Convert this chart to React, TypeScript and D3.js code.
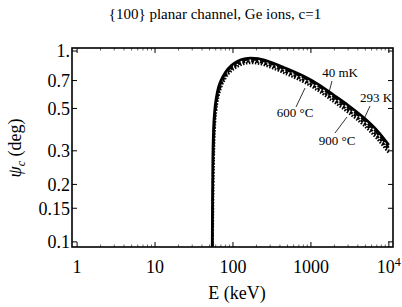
import * as d3 from 'd3';

const energy = [54, 55, 56, 58, 61, 65, 70, 80, 95, 115, 140, 170, 210, 300, 450, 800, 1200, 2000, 3000, 5000, 7000, 10000];
const psi40mK = [0.09, 0.26, 0.37, 0.48, 0.57, 0.645, 0.7, 0.775, 0.84, 0.885, 0.91, 0.918, 0.912, 0.875, 0.82, 0.74, 0.675, 0.585, 0.52, 0.44, 0.385, 0.322];
const psi293K = [0.06, 0.2, 0.32, 0.45, 0.55, 0.625, 0.685, 0.76, 0.825, 0.87, 0.895, 0.903, 0.897, 0.86, 0.805, 0.725, 0.66, 0.57, 0.505, 0.427, 0.373, 0.312];
const psi600C = [0.04, 0.14, 0.26, 0.41, 0.52, 0.6, 0.66, 0.74, 0.805, 0.85, 0.875, 0.884, 0.878, 0.84, 0.785, 0.705, 0.64, 0.553, 0.49, 0.413, 0.36, 0.302];
const psi900C = [0.03, 0.1, 0.2, 0.37, 0.49, 0.575, 0.64, 0.72, 0.785, 0.83, 0.857, 0.866, 0.86, 0.822, 0.767, 0.688, 0.624, 0.538, 0.476, 0.4, 0.348, 0.292];

const xTicks = [1, 10, 100, 1000];
const yTicks = [0.1, 0.15, 0.2, 0.3, 0.5, 0.7, 1];
const yTickLabels = ['0.1', '0.15', '0.2', '0.3', '0.5', '0.7', '1.'];

const width = 402;
const height = 307;
const margin = { top: 48, right: 9, bottom: 60, left: 72 };
const font = "'Liberation Serif', 'DejaVu Serif', serif";

const x = d3.scaleLog().domain([0.86, 11300]).range([margin.left, width - margin.right]);
const y = d3.scaleLog().domain([0.094, 1.037]).range([height - margin.bottom, margin.top]);

const series = [
  { name: '40 mK', values: psi40mK, width: 2.6, dash: null },
  { name: '293 K', values: psi293K, width: 2, dash: '7,2' },
  { name: '600 °C', values: psi600C, width: 2.2, dash: '3,1.5' },
  { name: '900 °C', values: psi900C, width: 2.4, dash: '1.5,1.5' },
];

const line = (vals: number[]) =>
  d3
    .line<number>()
    .x((_, i) => x(energy[i]))
    .y((v) => y(v))
    .curve(d3.curveMonotoneX)(vals);

const minorX: number[] = [];
for (let p = 0; p < 4; p++) {
  for (let k = 2; k <= 9; k++) minorX.push(k * Math.pow(10, p));
}

const App = () => {
  const x0 = margin.left;
  const x1 = width - margin.right;
  const y0 = height - margin.bottom;
  const y1 = margin.top;
  return (
    <svg width={width} height={height} style={{ position: 'absolute', left: 0, top: 0, fontFamily: font }}>
      <defs>
        <clipPath id="plot">
          <rect x={x0} y={y1} width={x1 - x0} height={y0 - y1} />
        </clipPath>
      </defs>
      <text x={215} y={19} fontSize={15} textAnchor="middle">
        {'{100} planar channel, Ge ions, c=1'}
      </text>

      <g clipPath="url(#plot)">
        {series.map((s) => (
          <path
            key={s.name}
            d={line(s.values) || ''}
            fill="none"
            stroke="black"
            strokeWidth={s.width}
            strokeDasharray={s.dash || undefined}
          />
        ))}
      </g>

      {/* frame */}
      <rect x={x0} y={y1} width={x1 - x0} height={y0 - y1} fill="none" stroke="black" strokeWidth={1.6} />

      {/* x ticks */}
      {[...xTicks, 10000].map((t) => (
        <g key={t}>
          <line x1={x(t)} x2={x(t)} y1={y0} y2={y0 - 5} stroke="black" strokeWidth={1} />
          <line x1={x(t)} x2={x(t)} y1={y1} y2={y1 + 5} stroke="black" strokeWidth={1} />
        </g>
      ))}
      {minorX.map((t) => (
        <g key={'m' + t}>
          <line x1={x(t)} x2={x(t)} y1={y0} y2={y0 - 2.5} stroke="black" strokeWidth={0.6} />
          <line x1={x(t)} x2={x(t)} y1={y1} y2={y1 + 2.5} stroke="black" strokeWidth={0.6} />
        </g>
      ))}
      {xTicks.map((t) => (
        <text key={'l' + t} x={x(t)} y={273} fontSize={18} textAnchor="middle">
          {t}
        </text>
      ))}
      <text x={x(10000)} y={273} fontSize={18} textAnchor="middle">
        10
        <tspan dy={-7} fontSize={12}>
          4
        </tspan>
      </text>

      {/* y ticks */}
      {yTicks.map((t, i) => (
        <g key={'y' + t}>
          <line x1={x0} x2={x0 + 5} y1={y(t)} y2={y(t)} stroke="black" strokeWidth={1} />
          <line x1={x1} x2={x1 - 5} y1={y(t)} y2={y(t)} stroke="black" strokeWidth={1} />
          <text x={70} y={y(t)} dy="0.35em" fontSize={18} textAnchor="end">
            {yTickLabels[i]}
          </text>
        </g>
      ))}

      <text x={237} y={299} fontSize={18} textAnchor="middle">
        E (keV)
      </text>
      <text transform="translate(21,148) rotate(-90)" fontSize={18} textAnchor="middle">
        <tspan fontStyle="italic">ψ</tspan>
        <tspan fontStyle="italic" fontSize={12} dy={4}>
          c
        </tspan>
        <tspan dy={-4}> (deg)</tspan>
      </text>

      {/* curve labels */}
      <text x={340} y={77} fontSize={13} textAnchor="middle">40 mK</text>
      <line x1={332} y1={81} x2={328} y2={96} stroke="black" strokeWidth={0.8} />
      <text x={376} y={102} fontSize={13} textAnchor="middle">293 K</text>
      <line x1={370} y1={106} x2={364} y2={119} stroke="black" strokeWidth={0.8} />
      <text x={295} y={117} fontSize={13} textAnchor="middle">600 °C</text>
      <line x1={296} y1={107} x2={305} y2={88} stroke="black" strokeWidth={0.8} />
      <text x={337} y={145} fontSize={13} textAnchor="middle">900 °C</text>
      <line x1={335} y1={133} x2={347} y2={117} stroke="black" strokeWidth={0.8} />
    </svg>
  );
};

export default App;
